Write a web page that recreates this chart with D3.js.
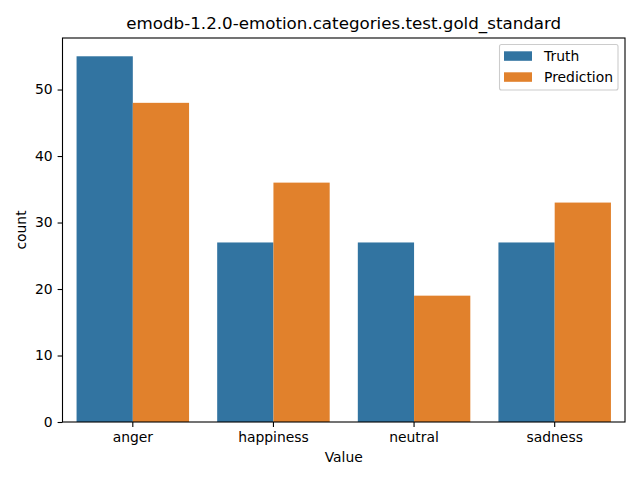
<!DOCTYPE html>
<html><head><meta charset="utf-8">
<script src="https://cdn.jsdelivr.net/npm/d3@7"></script>
<style>body{margin:0;background:#fff}svg{display:block}text{font-family:"DejaVu Sans",sans-serif;fill:#000}</style>
</head><body>
<script>
const categories = ["anger","happiness","neutral","sadness"];
const seriesNames = ["Truth","Prediction"];
const truthValues = [55,27,27,27];
const predictionValues = [48,36,19,33];
const yTicks = [0,10,20,30,40,50];
const colors = ["#3274a1","#e1812c"];

const W=640,H=480;
const m={l:62.5,r:625,t:38,b:422};
const svg=d3.select("body").append("svg").attr("width",W).attr("height",H);
const x=d3.scaleBand().domain(categories).range([m.l,m.r]).paddingInner(0).paddingOuter(0);
const inner=d3.scaleBand().domain(seriesNames).range([x.bandwidth()*0.1,x.bandwidth()*0.9]);
const y=d3.scaleLinear().domain([0,57.75]).range([m.b,m.t]);
const data=[truthValues,predictionValues];
seriesNames.forEach((s,si)=>{
  svg.append("g").selectAll("rect").data(categories).join("rect")
    .attr("x",c=>x(c)+inner(s)).attr("width",inner.bandwidth())
    .attr("y",(c,i)=>y(data[si][i])).attr("height",(c,i)=>y(0)-y(data[si][i]))
    .attr("fill",colors[si]);
});
const xa=svg.append("g").attr("transform",`translate(0,${m.b})`).call(d3.axisBottom(x).tickSize(4.9).tickPadding(4.9));
const ya=svg.append("g").attr("transform",`translate(${m.l},0)`).call(d3.axisLeft(y).tickValues(yTicks).tickSize(4.9).tickPadding(4.9));
[xa,ya].forEach(a=>{a.selectAll("text").style("font-size","13.9px").style("font-family","DejaVu Sans");a.selectAll("line,path").attr("stroke","#000").attr("stroke-width",1.1);});
xa.select(".domain").remove();ya.select(".domain").remove();
svg.append("rect").attr("x",m.l).attr("y",m.t).attr("width",m.r-m.l).attr("height",m.b-m.t).attr("fill","none").attr("stroke","#000").attr("stroke-width",1.1);
svg.append("text").attr("x",(m.l+m.r)/2).attr("y",29).attr("text-anchor","middle").style("font-size","16.7px").text("emodb-1.2.0-emotion.categories.test.gold_standard");
svg.append("text").attr("x",(m.l+m.r)/2).attr("y",462).attr("text-anchor","middle").style("font-size","13.9px").text("Value");
svg.append("text").attr("transform",`translate(26,${(m.t+m.b)/2}) rotate(-90)`).attr("text-anchor","middle").style("font-size","13.9px").text("count");
const lg=svg.append("g");
lg.append("rect").attr("x",499.5).attr("y",44.5).attr("width",118.5).attr("height",45.5).attr("rx",2).attr("fill","#fff").attr("fill-opacity",0.8).attr("stroke","#ccc").attr("stroke-width",1.1);
seriesNames.forEach((s,i)=>{
  lg.append("rect").attr("x",504).attr("y",51.3+i*21).attr("width",28).attr("height",9.5).attr("fill",colors[i]);
  lg.append("text").attr("x",544).attr("y",61+i*21).style("font-size","13.9px").text(s);
});
</script>
</body></html>
